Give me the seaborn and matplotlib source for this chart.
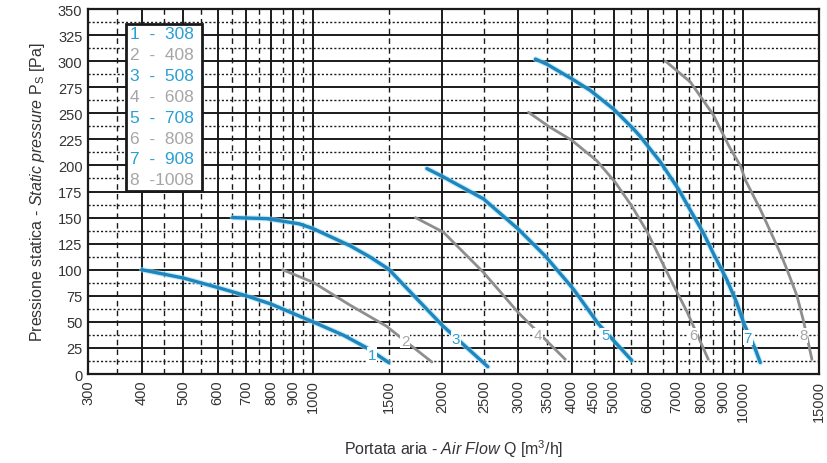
import numpy as np
import pandas as pd
import matplotlib
matplotlib.use("Agg")
import matplotlib.pyplot as plt
import seaborn as sns
from matplotlib.patches import Rectangle

# ---------------- data ----------------
curve_ids = ["1", "2", "3", "4", "5", "6", "7", "8"]
model_names = ["308", "408", "508", "608", "708", "808", "908", "1008"]

q1 = [400, 500, 600, 700, 800, 1000, 1180, 1335, 1500]
p1 = [100, 92, 83, 75, 67, 50, 37, 25, 11]
q2 = [850, 1000, 1220, 1480, 1890]
p2 = [100, 88, 66, 46, 11.5]
q3 = [650, 780, 930, 1000, 1220, 1360, 1500, 1745, 2000, 2550]
p3 = [150, 149, 144, 139.5, 123, 112, 100.5, 72, 46.5, 7]
q4 = [1730, 2010, 2490, 3000, 3860]
p4 = [150, 136, 97.5, 59, 14]
q5 = [1840, 2010, 2490, 3000, 3470, 4030, 4610, 5510]
p5 = [197, 189, 168, 139, 113, 81.5, 48, 13]
q6 = [3170, 3530, 4000, 4570, 5040, 5510, 5980, 6430, 6890, 7400, 8300]
p6 = [251, 237.5, 224, 204.5, 184, 161, 136.5, 110, 85, 60, 14]
q7 = [3290, 3500, 4000, 4410, 5000, 5560, 5760, 6430, 7080, 7540, 8090,
      8540, 9150, 9650, 10050, 10670, 10960]
p7 = [302, 297, 283, 272, 254, 235, 228, 203, 177, 157, 135,
      115, 91, 69, 48, 24, 11]
q8 = [6600, 7540, 8540, 8850, 9340, 9850, 10120, 10960, 12200, 12650, 13340,
      13830, 14450]
p8 = [300, 280, 248, 235, 216, 200, 186, 158, 116, 100, 75,
      50, 14]

curve_q = [q1, q2, q3, q4, q5, q6, q7, q8]
curve_p = [p1, p2, p3, p4, p5, p6, p7, p8]

# curve number labels (position on chart)
label_q = [1370, 1640, 2145, 3340, 4780, 7650, 10260, 13800]
label_p = [18, 32, 34, 37, 37, 37, 35, 37]

x_tick_values = [300, 400, 500, 600, 700, 800, 900, 1000, 1500, 2000, 2500,
                 3000, 3500, 4000, 4500, 5000, 6000, 7000, 8000, 9000, 10000, 15000]
y_tick_values = list(range(0, 351, 25))

solid_v = [400, 500, 600, 700, 800, 900, 1000, 2000, 3000, 4000, 5000,
           6000, 7000, 8000, 9000, 10000]
dashed_v = [350, 450, 550, 650, 750, 850, 950, 1500, 2500, 3500, 4500,
            5500, 6500, 7500, 8500, 9500]
solid_h = list(range(25, 350, 25))
dotted_h = [12.5 + 25 * k for k in range(14)]

# ---------------- style ----------------
sns.set_theme(style="white")
plt.rcParams["font.family"] = ["Liberation Sans", "DejaVu Sans"]
plt.rcParams["mathtext.fontset"] = "custom"
plt.rcParams["mathtext.rm"] = "Liberation Sans"
plt.rcParams["mathtext.it"] = "Liberation Sans:italic"

BLUE = "#1d86bf"
GREY = "#8e8e8e"
BLUE_TXT = "#2a9fd4"
GREY_TXT = "#a6a6a6"
colors = [BLUE if i % 2 == 0 else GREY for i in range(8)]
txt_colors = [BLUE_TXT if i % 2 == 0 else GREY_TXT for i in range(8)]

fig = plt.figure(figsize=(8.28, 4.64), dpi=100)
ax = fig.add_axes([0.1063, 0.1918, 0.8827, 0.7866])

ax.set_xscale("log")
ax.set_xlim(300, 15000)
ax.set_ylim(0, 350)

# grid
for v in solid_v:
    ax.axvline(v, color="#1a1a1a", lw=1.4, zorder=1)
for v in dashed_v:
    ax.axvline(v, color="#1a1a1a", lw=1.0, ls=(0, (4, 3)), zorder=1)
for h in solid_h:
    ax.axhline(h, color="#1a1a1a", lw=1.4, zorder=1)
for h in dotted_h:
    ax.axhline(h, color="#1a1a1a", lw=1.0, ls=(0, (1.5, 1.5)), zorder=1)

# curves
rows = []
for cid, qs, ps in zip(curve_ids, curve_q, curve_p):
    for q, p in zip(qs, ps):
        rows.append({"curve": cid, "Q": q, "P": p})
df = pd.DataFrame(rows)

for i, cid in enumerate(curve_ids):
    sub = df[df["curve"] == cid]
    if i % 2 == 0:
        sns.lineplot(data=sub, x="Q", y="P", sort=False, estimator=None,
                     color="#9fe0f5", lw=4.0, ax=ax, zorder=2, alpha=0.6)
    sns.lineplot(data=sub, x="Q", y="P", sort=False, estimator=None,
                 color=colors[i], lw=2.4 if i % 2 == 0 else 2.0, ax=ax, zorder=3)

# curve labels
for i, cid in enumerate(curve_ids):
    ax.text(label_q[i], label_p[i], cid, color=txt_colors[i], fontsize=11,
            ha="center", va="center", zorder=4,
            bbox=dict(facecolor="white", edgecolor="none", pad=0.6))

# legend box
x0, x1 = 0.052, 0.156
y0, y1 = 0.501, 0.960
rect = Rectangle((x0, y0), x1 - x0, y1 - y0, transform=ax.transAxes,
                 facecolor="white", edgecolor="#1a1a1a", lw=2.0, zorder=5)
ax.add_patch(rect)
line_h = (y1 - y0) / 8.0
for i, (cid, name) in enumerate(zip(curve_ids, model_names)):
    s = f"{cid}  -  {name}" if len(name) == 3 else f"{cid}  -{name}"
    t = ax.text(x0 + 0.006, y1 - line_h * (i + 0.55) + 0.005, s, transform=ax.transAxes,
                fontsize=12.5, color=txt_colors[i], ha="left", va="center", zorder=6)
    t.set_clip_path(rect)

# axes / ticks
ax.set_xticks(x_tick_values)
ax.set_xticklabels([str(v) for v in x_tick_values], rotation=90, fontsize=10.5, color="#333333")
ax.xaxis.set_minor_locator(matplotlib.ticker.NullLocator())
ax.set_yticks(y_tick_values)
ax.set_yticklabels([str(v) for v in y_tick_values], fontsize=10.5, color="#333333")
ax.tick_params(axis="both", length=0, pad=4)

for s in ax.spines.values():
    s.set_color("#1a1a1a")
    s.set_linewidth(1.6)
    s.set_zorder(7)

ax.set_xlabel(r"Portata aria - $\it{Air\ Flow}$ Q [m$^3$/h]", fontsize=11.5,
              color="#333333", labelpad=12)
ax.set_ylabel(r"Pressione statica - $\it{Static\ pressure}$ P$_\mathrm{S}$ [Pa]",
              fontsize=11.5, color="#333333", labelpad=8)

fig.savefig("out.png", dpi=100)
